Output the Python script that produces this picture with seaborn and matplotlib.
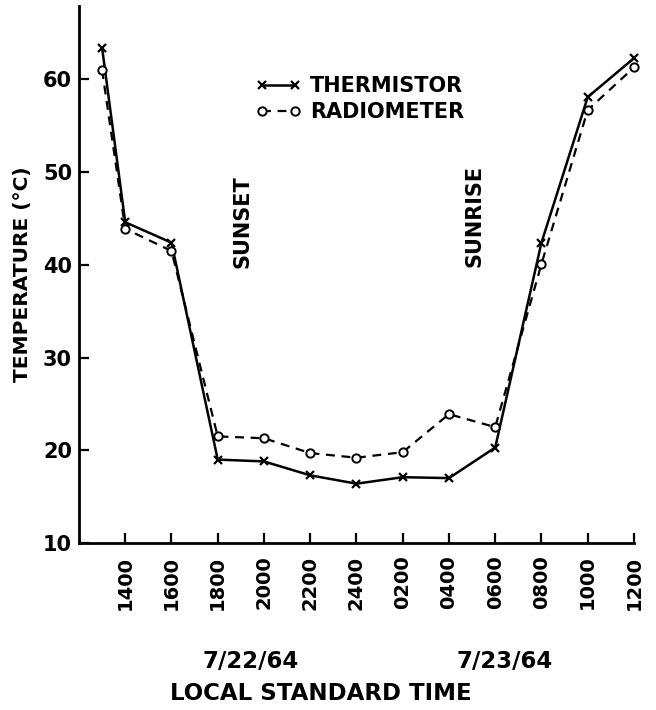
import pandas as pd
import matplotlib
matplotlib.use('Agg')
import matplotlib.pyplot as plt
import seaborn as sns

# ---- DATA (hours counted from noon 7/22/64) ----
hours = [13, 14, 16, 18, 20, 22, 24, 26, 28, 30, 32, 34, 36]
thermistor = [63.4, 44.6, 42.4, 19.0, 18.8, 17.3, 16.4, 17.1, 17.0, 20.3, 42.4, 58.1, 62.3]
radiometer = [61.0, 43.9, 41.5, 21.5, 21.3, 19.7, 19.2, 19.8, 23.9, 22.5, 40.1, 56.7, 61.3]

tick_pos = [14, 16, 18, 20, 22, 24, 26, 28, 30, 32, 34, 36]
tick_labels = ["1400", "1600", "1800", "2000", "2200", "2400",
               "0200", "0400", "0600", "0800", "1000", "1200"]
y_ticks = [10, 20, 30, 40, 50, 60]

df = pd.DataFrame({'hour': hours, 'thermistor': thermistor, 'radiometer': radiometer})

sns.set_style('ticks')
plt.rcParams['font.family'] = ['DejaVu Sans']
plt.rcParams['font.weight'] = 'bold'
for k in ['text.color', 'axes.labelcolor', 'xtick.color', 'ytick.color']:
    plt.rcParams[k] = 'black'

fig = plt.figure(figsize=(6.56, 7.10), dpi=100)
ax = fig.add_axes([0.1204, 0.2352, 0.846, 0.756])

# ---- CURVES ----
sns.lineplot(data=df, x='hour', y='thermistor', ax=ax, color='black', linewidth=1.8,
             marker='x', markersize=6, markeredgewidth=1.6, markeredgecolor='black',
             label='THERMISTOR', clip_on=False)
sns.lineplot(data=df, x='hour', y='radiometer', ax=ax, color='black', linewidth=1.6,
             linestyle=(0, (4, 3)), marker='o', markersize=6, markeredgewidth=1.4,
             markeredgecolor='black', markerfacecolor='white', label='RADIOMETER',
             clip_on=False)

# ---- AXES ----
ax.set_xlim(12, 36)
ax.set_ylim(10, 67.9)
ax.set_xticks(tick_pos)
ax.set_xticklabels(tick_labels, rotation=90, fontsize=14, fontweight='bold')
ax.set_yticks(y_ticks)
ax.set_yticklabels([str(v) for v in y_ticks], fontsize=15, fontweight='bold')
ax.tick_params(axis='both', direction='in', length=7, width=1.6, colors='black',
               bottom=True, left=True)
ax.tick_params(axis='x', pad=9)
ax.tick_params(axis='y', pad=5)
sns.despine(ax=ax)
for s in ['left', 'bottom']:
    ax.spines[s].set_linewidth(2)
    ax.spines[s].set_color('black')
ax.set_xlabel("")
ax.set_ylabel("TEMPERATURE (°C)", fontsize=14.5, fontweight='bold', labelpad=8)

# ---- LEGEND ----
leg = ax.legend(loc='upper left', bbox_to_anchor=(0.285, 0.905), frameon=False,
                numpoints=2, handlelength=2.2, handletextpad=0.4, labelspacing=0.3,
                prop={'size': 15, 'weight': 'bold'})

# ---- ANNOTATIONS ----
ax.text(19.05, 44.7, "SUNSET", rotation=90, ha='center', va='center',
        fontsize=15, fontweight='bold')
ax.text(29.1, 45.3, "SUNRISE", rotation=90, ha='center', va='center',
        fontsize=15, fontweight='bold')
fig.text(251 / 656, 1 - 662 / 710, "7/22/64", ha='center', va='center',
         fontsize=16.5, fontweight='bold')
fig.text(505 / 656, 1 - 662 / 710, "7/23/64", ha='center', va='center',
         fontsize=16.5, fontweight='bold')
fig.text(321 / 656, 1 - 694 / 710, "LOCAL STANDARD TIME", ha='center', va='center',
         fontsize=16.5, fontweight='bold')

fig.savefig('out.png', dpi=100, facecolor='white')
